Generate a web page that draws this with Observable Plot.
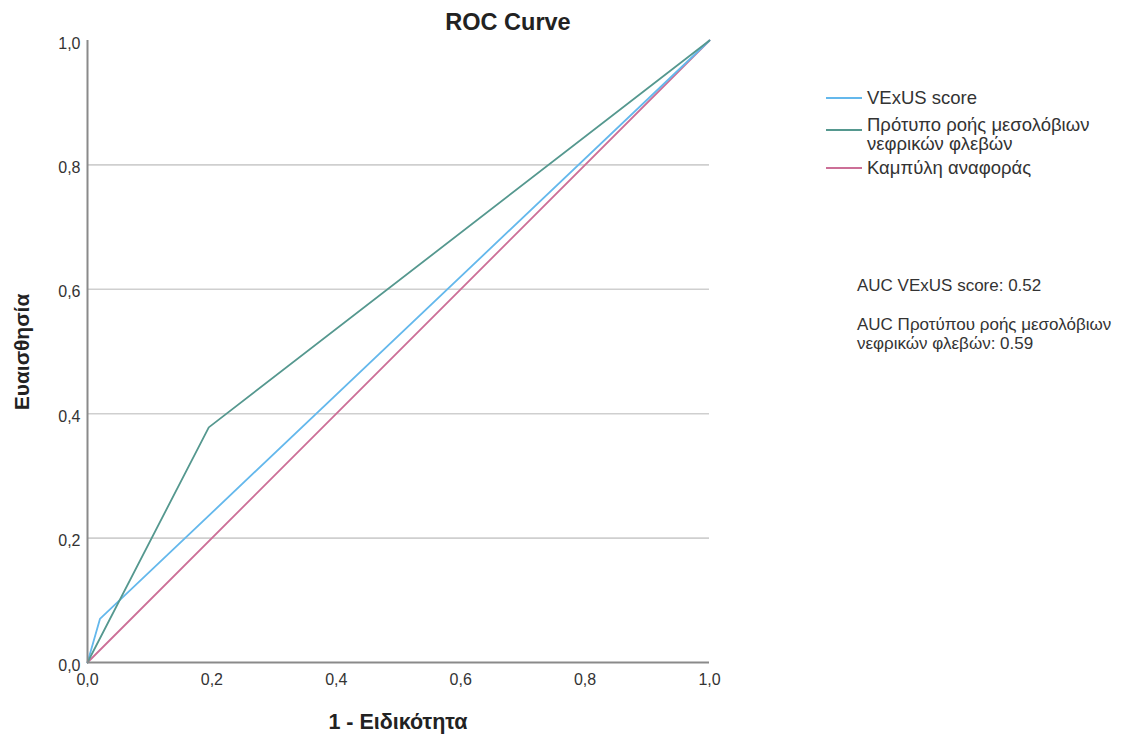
<!DOCTYPE html>
<html>
<head>
<meta charset="utf-8">
<script src="https://cdn.jsdelivr.net/npm/d3@7"></script>
<script src="https://cdn.jsdelivr.net/npm/@observablehq/plot@0.6"></script>
<style>
  html, body { margin: 0; padding: 0; background: #fff; }
  #wrap { position: relative; width: 1137px; height: 738px; font-family: "Liberation Sans", Arial, sans-serif; color: #222; }
  #wrap svg { position: absolute; left: 0; top: 0; }
  .abs { position: absolute; white-space: nowrap; }
  .title { font-size: 23.5px; line-height: 26px; font-weight: bold; left: 0; width: 1016px; text-align: center; top: 9px; }
  .xlab { font-size: 21.5px; line-height: 24px; font-weight: bold; left: 87px; width: 622px; text-align: center; top: 710px; }
  .ylab { font-size: 21px; line-height: 24px; font-weight: bold; left: 22px; top: 352px; transform: translate(-50%, -50%) rotate(-90deg); }
  .leg { font-size: 18.5px; line-height: 19px; color: #333; }
  .swatch { position: absolute; height: 2px; width: 36px; }
  .auc { font-size: 17px; line-height: 19px; color: #333; }
</style>
</head>
<body>
<div id="wrap"></div>
<script>
// ---- data ----
const vexusFpr = [0, 0.02, 1];
const vexusTpr = [0, 0.07, 1];
const flowFpr = [0, 0.195, 1];
const flowTpr = [0, 0.378, 1];
const refFpr = [0, 1];
const refTpr = [0, 1];
const seriesNames = ["VExUS score", "Πρότυπο ροής μεσολόβιων νεφρικών φλεβών", "Καμπύλη αναφοράς"];
const seriesColors = ["#64b8ec", "#55988f", "#cc6f97"];
const tickValues = [0, 0.2, 0.4, 0.6, 0.8, 1.0];
const gridValues = [0.2, 0.4, 0.6, 0.8];
const aucVexus = 0.52;
const aucFlow = 0.59;

const rows = [];
vexusFpr.forEach((x, i) => rows.push({series: seriesNames[0], x, y: vexusTpr[i]}));
flowFpr.forEach((x, i) => rows.push({series: seriesNames[1], x, y: flowTpr[i]}));
refFpr.forEach((x, i) => rows.push({series: seriesNames[2], x, y: refTpr[i]}));

const fmt = d => d3.format(".1f")(d).replace(".", ",");

const chart = Plot.plot({
  width: 1137,
  height: 738,
  marginLeft: 87,
  marginRight: 428,
  marginTop: 40,
  marginBottom: 76,
  style: {fontFamily: "Liberation Sans, Arial, sans-serif", fontSize: "16px", color: "#333", background: "transparent"},
  x: {domain: [0, 1], tickFormat: fmt, label: null},
  y: {domain: [0, 1], tickFormat: fmt, label: null},
  color: {domain: seriesNames, range: seriesColors},
  marks: [
    Plot.ruleY(gridValues, {stroke: "#cfcfcf", strokeWidth: 1.6}),
    Plot.axisX(tickValues, {tickSize: 0, tickPadding: 11, tickFormat: fmt, fontSize: 16, label: null}),
    Plot.axisY(tickValues, {tickSize: 0, tickPadding: 7, tickFormat: fmt, fontSize: 16, dy: 3, label: null}),
    Plot.line(rows.filter(d => d.series === seriesNames[2]), {x: "x", y: "y", stroke: "series", strokeWidth: 1.8}),
    Plot.line(rows.filter(d => d.series === seriesNames[0]), {x: "x", y: "y", stroke: "series", strokeWidth: 1.8}),
    Plot.line(rows.filter(d => d.series === seriesNames[1]), {x: "x", y: "y", stroke: "series", strokeWidth: 1.8}),
    Plot.ruleX([0], {stroke: "#8a8a8a", strokeWidth: 2}),
    Plot.ruleY([0], {stroke: "#8a8a8a", strokeWidth: 2})
  ]
});

const wrap = document.getElementById("wrap");
wrap.appendChild(chart);

function addDiv(cls, html, style) {
  const d = document.createElement("div");
  d.className = "abs " + cls;
  d.innerHTML = html;
  if (style) Object.assign(d.style, style);
  wrap.appendChild(d);
  return d;
}

addDiv("title", "ROC Curve");
addDiv("xlab", "1 - Ειδικότητα");
addDiv("ylab", "Ευαισθησία");

// legend
const legendTops = [88, 115, 158];
const legendLabels = ["VExUS score", "Πρότυπο ροής μεσολόβιων<br>νεφρικών φλεβών", "Καμπύλη αναφοράς"];
const swatchYs = [97, 129, 167];
legendLabels.forEach((lab, i) => {
  addDiv("leg", lab, {left: "867px", top: legendTops[i] + "px"});
  const sw = document.createElement("div");
  sw.className = "swatch";
  Object.assign(sw.style, {left: "826px", top: swatchYs[i] + "px", background: seriesColors[i]});
  wrap.appendChild(sw);
});

addDiv("auc", "AUC VExUS score: " + aucVexus.toFixed(2), {left: "857px", top: "276px"});
addDiv("auc", "AUC Προτύπου ροής μεσολόβιων<br>νεφρικών φλεβών: " + aucFlow.toFixed(2), {left: "857px", top: "315px"});
</script>
</body>
</html>
